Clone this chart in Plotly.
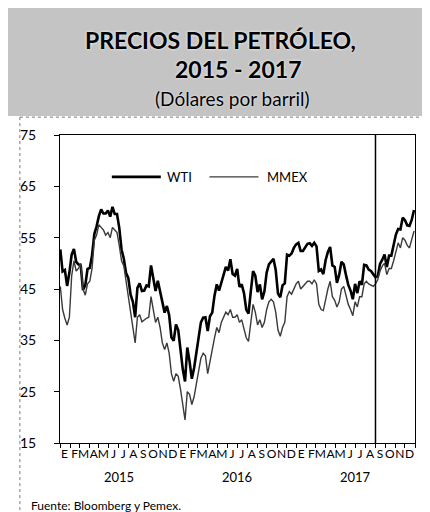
import pandas as pd
import plotly.graph_objects as go

# Weekly (Friday) prices, USD per barrel
wti_2015 = [52.7, 48.4, 48.7, 45.6, 48.2, 51.7, 52.8, 50.3, 49.8, 49.6, 44.8, 45.7, 48.9,
            49.1, 51.6, 55.7, 57.2, 59.2, 60.5, 59.7, 59.7, 60.3, 59.1, 61.0, 59.6, 59.6,
            56.9, 52.7, 50.9, 48.1, 47.1, 43.9, 42.5, 39.5, 45.2, 46.1, 44.6, 44.7, 45.7,
            45.5, 49.6, 47.3, 44.6, 46.6, 44.3, 42.0, 40.4, 41.7, 39.9, 35.6, 34.9, 38.1]
wti_2016 = [37.0, 33.2, 29.4, 27.0, 33.6, 30.9, 27.5, 29.6, 32.8, 35.9, 38.5, 39.4, 39.5,
            36.8, 39.7, 40.4, 43.7, 45.9, 44.7, 46.2, 47.8, 49.3, 48.6, 50.8, 47.9, 47.6,
            48.9, 45.4, 45.9, 44.2, 41.0, 40.2, 44.5, 48.5, 47.6, 44.4, 45.9, 43.0, 44.5,
            48.2, 49.8, 50.4, 50.9, 48.7, 44.1, 43.4, 45.7, 46.1, 51.7, 51.5, 51.9, 53.0, 53.7]
wti_2017 = [54.0, 52.4, 52.4, 53.2, 53.8, 53.9, 53.4, 54.0, 53.3, 48.5, 48.8, 47.9, 50.6,
            52.2, 53.2, 49.6, 49.3, 46.2, 47.8, 50.3, 49.8, 47.7, 45.8, 44.7, 43.0, 46.0,
            44.2, 46.5, 45.8, 49.7, 49.6, 48.8, 48.5, 47.9, 47.3, 47.5, 49.9, 50.7, 51.7,
            49.3, 51.5, 51.5, 53.9, 55.6, 56.7, 56.6, 58.9, 58.4, 57.4, 57.3, 58.5, 60.4]

mmex_2015 = [45.5, 41.0, 39.3, 38.0, 39.5, 47.5, 50.5, 48.5, 49.0, 50.0, 45.0, 43.8, 46.0,
             46.5, 49.0, 54.5, 55.5, 57.5, 57.0, 56.5, 55.5, 56.0, 55.0, 57.0, 56.5, 56.0,
             53.5, 50.5, 49.5, 46.5, 44.0, 40.5, 38.0, 34.5, 39.5, 40.0, 38.6, 39.0, 39.3,
             39.5, 43.5, 41.0, 38.5, 39.5, 37.5, 34.5, 33.2, 34.5, 32.5, 28.5, 27.0, 28.5]
mmex_2016 = [28.0, 25.5, 22.5, 19.5, 25.0, 24.5, 22.5, 24.0, 26.5, 29.5, 31.5, 32.5, 32.0,
             28.5, 31.0, 33.5, 35.5, 37.5, 36.5, 38.5, 39.5, 40.5, 40.0, 41.0, 39.5, 39.5,
             40.0, 38.5, 39.0, 37.5, 35.5, 34.8, 38.0, 42.0, 40.5, 38.0, 39.0, 37.5, 38.5,
             41.0, 42.5, 43.0, 42.5, 40.5, 37.0, 35.8, 37.5, 38.5, 43.5, 44.5, 44.0, 45.0, 46.0]
mmex_2017 = [46.5, 45.0, 45.5, 46.0, 46.5, 46.5, 46.0, 46.8, 46.0, 42.0, 41.0, 40.8, 43.0,
             45.0, 46.5, 43.5, 42.8, 41.5, 42.5, 45.0, 45.5, 43.5, 42.0, 41.0, 39.8, 42.5,
             41.5, 43.5, 43.5, 46.0, 46.5, 46.0, 45.8, 45.5, 46.0, 46.8, 48.5, 49.5, 50.0,
             47.8, 49.0, 49.0, 50.5, 52.5, 54.0, 53.0, 55.0, 54.5, 53.5, 53.0, 54.5, 56.3]

wti = wti_2015 + wti_2016 + wti_2017
mmex = mmex_2015 + mmex_2016 + mmex_2017
dates = pd.date_range("2015-01-02", "2017-12-29", freq="W-FRI")

month_letters = ["E", "F", "M", "A", "M", "J", "J", "A", "S", "O", "N", "D"]
years = [2015, 2016, 2017]
y_ticks = [15, 25, 35, 45, 55, 65, 75]
marker_date = "2017-09-01"

month_starts = pd.date_range("2015-01-01", "2018-01-01", freq="MS")
mid_months = [d + pd.Timedelta(days=14) for d in month_starts[:-1]]
tick_text = [month_letters[d.month - 1] for d in mid_months]

FONT = "Lato"

fig = go.Figure()
fig.add_trace(go.Scatter(x=dates[:len(wti)], y=wti, mode="lines", name="WTI",
                         line=dict(color="black", width=2.6), showlegend=False))
fig.add_trace(go.Scatter(x=dates[:len(mmex)], y=mmex, mode="lines", name="MMEX",
                         line=dict(color="#3a3a3a", width=1.4), showlegend=False))

shapes = [
    # title band
    dict(type="rect", xref="paper", yref="paper", x0=-0.15, x1=1.05, y0=1.062, y1=1.45,
         fillcolor="#c4c4c4", line=dict(width=0), layer="below"),
    # dotted frame
    dict(type="line", xref="paper", yref="paper", x0=-0.113, x1=1.05, y0=1.058, y1=1.058,
         line=dict(color="#777", width=1, dash="dot")),
    dict(type="line", xref="paper", yref="paper", x0=-0.113, x1=-0.113, y0=1.058, y1=-0.23,
         line=dict(color="#777", width=1, dash="dot")),
    # vertical marker
    dict(type="line", xref="x", yref="paper", x0=marker_date, x1=marker_date, y0=0, y1=1,
         line=dict(color="black", width=1.5)),
    # legend samples
    dict(type="line", xref="paper", yref="paper", x0=0.146, x1=0.284, y0=0.864, y1=0.864,
         line=dict(color="black", width=2.6)),
    dict(type="line", xref="paper", yref="paper", x0=0.421, x1=0.559, y0=0.864, y1=0.864,
         line=dict(color="#3a3a3a", width=1.2)),
]

halo = "0px 0px 3px white"
annotations = [
    dict(text="<b>PRECIOS DEL PETRÓLEO,</b>", xref="paper", yref="paper", x=0.452, y=1.3084,
         yanchor="middle", xanchor="center", showarrow=False,
         font=dict(family=FONT, size=23, color="black", shadow=halo)),
    dict(text="<b>2015 - 2017</b>", xref="paper", yref="paper", x=0.50, y=1.2143,
         yanchor="middle", xanchor="center", showarrow=False,
         font=dict(family=FONT, size=23, color="black", shadow=halo)),
    dict(text="(Dólares por barril)", xref="paper", yref="paper", x=0.485, y=1.120,
         yanchor="middle", xanchor="center", showarrow=False,
         font=dict(family=FONT, size=19, color="black", shadow="0px 0px 2px white")),
    dict(text="WTI", xref="paper", yref="paper", x=0.296, y=0.864, xanchor="left",
         yanchor="middle", showarrow=False, font=dict(family=FONT, size=13, color="black")),
    dict(text="MMEX", xref="paper", yref="paper", x=0.577, y=0.864, xanchor="left",
         yanchor="middle", showarrow=False, font=dict(family=FONT, size=13, color="black")),
    dict(text="Fuente: Bloomberg y Pemex.", xref="paper", yref="paper", x=-0.088, y=-0.2045,
         xanchor="left", yanchor="middle", showarrow=False,
         font=dict(family=FONT, size=12, color="black")),
]
for yr in years:
    annotations.append(dict(text=str(yr), xref="x", yref="paper", x=f"{yr}-07-01", y=-0.110,
                            xanchor="center", yanchor="middle", showarrow=False,
                            font=dict(family=FONT, size=13, color="black")))

# The page body adds an 8px offset, so the figure is 8px smaller on each side.
fig.update_layout(
    width=422, height=504,
    margin=dict(l=44, r=15, t=127, b=69),
    paper_bgcolor="white", plot_bgcolor="white",
    shapes=shapes, annotations=annotations,
    xaxis=dict(type="date", range=["2015-01-01", "2018-01-01"],
               tickmode="array", tickvals=mid_months, ticktext=tick_text, ticks="",
               tickangle=0, tickfont=dict(family=FONT, size=12, color="black"),
               showgrid=False, showline=True, linecolor="black", linewidth=1, mirror=True,
               minor=dict(tickmode="array", tickvals=list(month_starts), ticks="outside",
                          ticklen=4, tickcolor="black", showgrid=False)),
    yaxis=dict(range=[15, 75], tickmode="array", tickvals=y_ticks, ticks="outside", ticklen=5,
               tickcolor="black", tickfont=dict(family=FONT, size=14, color="black"),
               ticklabelstandoff=15,
               showgrid=False, showline=True, linecolor="black", linewidth=1, mirror=True,
               zeroline=False),
)

fig.write_html("out.html")
